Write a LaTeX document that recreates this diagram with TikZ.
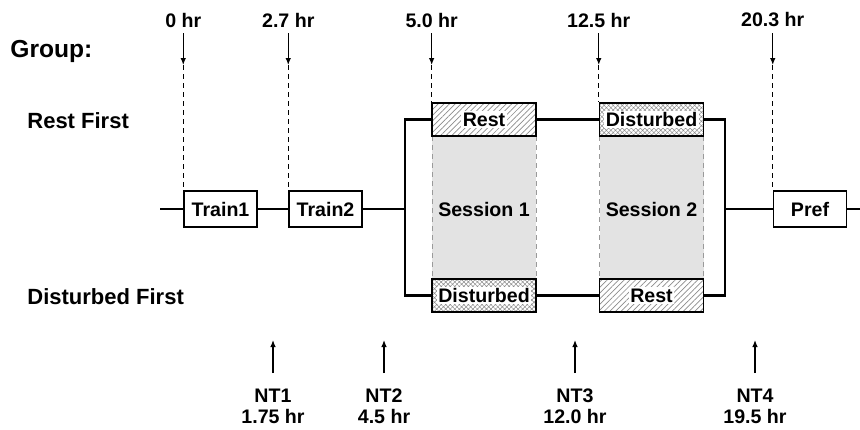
\documentclass[tikz,border=0pt]{standalone}
\usepackage{fontspec}
\setmainfont{Liberation Sans}
\usetikzlibrary{arrows.meta,positioning,patterns.meta,calc}
\definecolor{sessgray}{HTML}{E3E3E3}
\definecolor{hatchgray}{HTML}{8C8C8C}
\definecolor{edgegray}{HTML}{9A9A9A}

\newcommand{\boxtext}[1]{{\setlength{\fboxsep}{0.7pt}\colorbox{white}{#1}}}

\tikzset{
  timeline/.style={line width=1.2pt},
  stagebox/.style={draw,line width=0.75pt,fill=white,minimum width=36.5pt,minimum height=18pt,
    inner sep=0pt,font=\fontsize{9.8}{11}\selectfont\bfseries},
  sessbox/.style={draw,line width=0.75pt,preaction={fill=white},pattern color=hatchgray,
    minimum width=52pt,minimum height=16.5pt,inner sep=0pt,font=\fontsize{9.8}{11}\selectfont\bfseries},
  restbox/.style={sessbox,pattern={Lines[angle=45,distance=2pt,line width=0.35pt]}},
  distbox/.style={sessbox,pattern={Hatch[angle=45,distance=1.6pt,line width=0.25pt]}},
  grouplabel/.style={anchor=west,inner sep=0pt,font=\fontsize{11}{13}\selectfont\bfseries},
  timelabel/.style={inner sep=0pt,font=\fontsize{9.8}{11}\selectfont\bfseries},
  ntlabel/.style={anchor=north,inner sep=0pt,align=center,text height=17.5pt,text depth=0.3pt,
    font=\fontsize{9.8}{10.5}\selectfont\bfseries},
  marker/.style={line width=0.6pt,-{Latex[length=3.5pt,width=2.8pt]}},
  guide/.style={line width=0.5pt,dash pattern=on 2.5pt off 2pt},
  sessedge/.style={edgegray,line width=0.5pt,dash pattern=on 2.5pt off 2pt}
}

\begin{document}
\begin{tikzpicture}[x=0.5pt,y=-0.5pt]
  \useasboundingbox (0,0) rectangle (860,429);
  % Group labels
  \node[grouplabel,font=\fontsize{12.3}{14}\selectfont\bfseries] (group) at (10,51) {Group:};
  \node[grouplabel] (restfirst) at (27,121) {Rest First};
  \node[grouplabel] (distfirst) at (27,297) {Disturbed First};
  % Session positions
  \def\sA{484}
  \def\sB{651.5}
  % Session areas (behind the boxes)
  \foreach \x/\lab in {\sA/Session 1, \sB/Session 2} {
    \fill[sessgray] (\x-52,136) rectangle (\x+52,279);
    \draw[sessedge] (\x-52,136) -- (\x-52,279);
    \draw[sessedge] (\x+52,136) -- (\x+52,279);
    \node[font=\fontsize{9.8}{11}\selectfont\bfseries] at (\x,209) {\lab};
  }
  % Training and preference boxes
  \node[stagebox] (train1) at (220.5,209) {Train1};
  \node[stagebox] (train2) at (325.5,209) {Train2};
  \node[stagebox] (pref) at (810,209) {Pref};
  % Session boxes
  \node[restbox] (rest1) at (\sA,119.5) {\boxtext{Rest}};
  \node[distbox] (dist1) at (\sA,295.5) {\boxtext{Disturbed}};
  \node[distbox] (dist2) at (\sB,119.5) {\boxtext{Disturbed}};
  \node[restbox] (rest2) at (\sB,295.5) {\boxtext{Rest}};
  % Time line with fork
  \coordinate (lineL) at (160,209);
  \coordinate (lineR) at (862,209);
  \coordinate (forkL) at (405,209);
  \coordinate (forkR) at (725,209);
  \draw[timeline] (lineL) -- (train1);
  \draw[timeline] (train1) -- (train2);
  \draw[timeline] (train2) -- (forkL);
  \draw[timeline] (rest1.west) -| (forkL) |- (dist1.west);
  \draw[timeline] (rest1) -- (dist2);
  \draw[timeline] (dist1) -- (rest2);
  \draw[timeline] (dist2.east) -| (forkR) |- (rest2.east);
  \draw[timeline] (forkR) -- (pref);
  \draw[timeline] (pref) -- (lineR);
  % Start times (top)
  \coordinate (toprow) at (0,20);
  \coordinate (tailrow) at (0,33);
  \coordinate (tiprow) at (0,65);
  \foreach \tgt/\t in {train1/0 hr, train2/2.7 hr, rest1/5.0 hr, dist2/12.5 hr, pref/20.3 hr} {
    \node[timelabel] (t-\tgt) at (\tgt.north west |- toprow) {\t};
    \draw[marker] (\tgt.north west |- tailrow) -- (\tgt.north west |- tiprow);
    \draw[guide] (\tgt.north west |- tiprow) -- (\tgt.north west);
  }
  % Neutral tests (bottom)
  \foreach \x/\nm/\t in {273/NT1/1.75 hr, 384/NT2/4.5 hr, 575/NT3/12.0 hr, 755/NT4/19.5 hr} {
    \node[ntlabel] (\nm) at (\x,388) {\nm\\\t};
    \draw[marker] ($(\nm.north)+(0,-15)$) -- ($(\nm.north)+(0,-48)$);
  }
\end{tikzpicture}
\end{document}
